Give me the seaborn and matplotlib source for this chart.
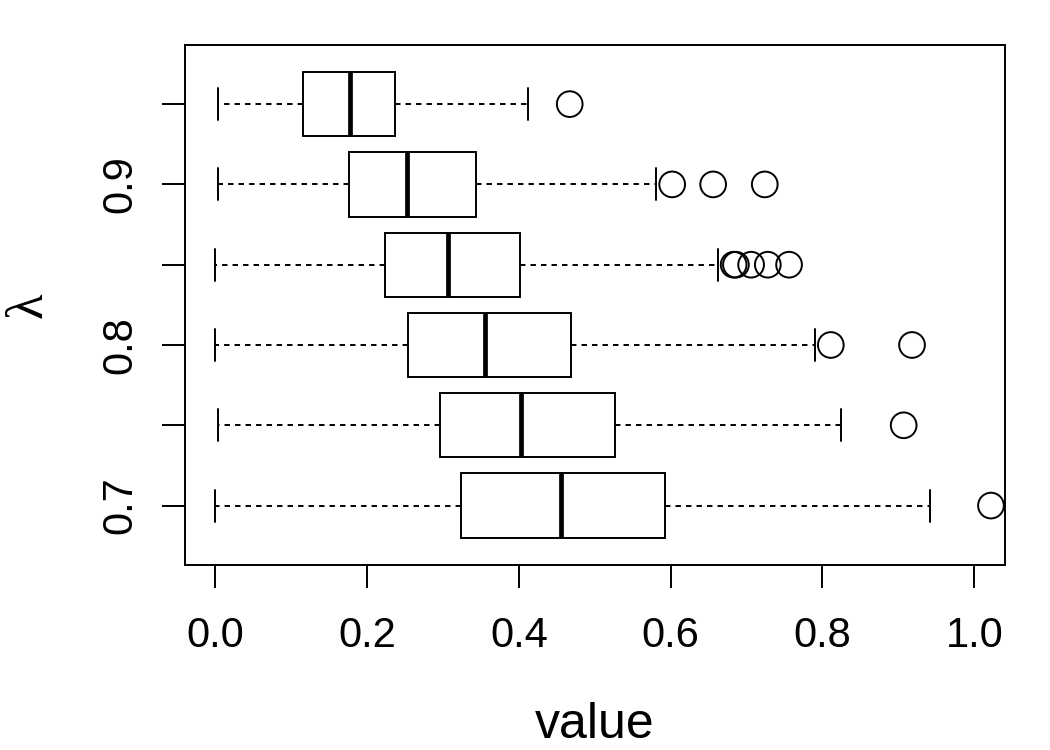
import numpy as np
import pandas as pd
import matplotlib
matplotlib.use("Agg")
import matplotlib.pyplot as plt
import seaborn as sns

# ---- data ----
categories = ["0.7", "0.75", "0.8", "0.85", "0.9", "0.95"]
whisker_lo = [0.000, 0.004, 0.000, 0.000, 0.003, 0.003]
q1         = [0.324, 0.296, 0.254, 0.223, 0.176, 0.115]
median     = [0.455, 0.403, 0.356, 0.307, 0.252, 0.177]
q3         = [0.593, 0.527, 0.469, 0.402, 0.344, 0.237]
whisker_hi = [0.942, 0.824, 0.790, 0.662, 0.581, 0.412]
outliers = [
    [1.022],
    [0.907],
    [0.811, 0.918],
    [0.683, 0.686, 0.706, 0.728, 0.756],
    [0.602, 0.656, 0.724],
    [0.467],
]
shown_labels = ["0.7", "", "0.8", "", "0.9", ""]
x_ticks = [0.0, 0.2, 0.4, 0.6, 0.8, 1.0]

# five-number summaries -> long table (quartiles of 5 points are exact)
box_df = pd.DataFrame({
    "lam": np.repeat(categories, 5),
    "value": np.column_stack([whisker_lo, q1, median, q3, whisker_hi]).ravel(),
})
out_df = pd.DataFrame({
    "lam": [c for c, o in zip(categories, outliers) for _ in o],
    "value": [v for o in outliers for v in o],
})

sns.set_style("ticks")
plt.rcParams["font.family"] = ["Liberation Sans", "DejaVu Sans"]

order = categories[::-1]  # 0.95 on top, 0.7 at the bottom

fig = plt.figure(figsize=(10.5, 7.5), dpi=100)
ax = fig.add_axes([184.5 / 1050, 1 - 565 / 750, 820.5 / 1050, 520.3 / 750])

lw = 1.4
sns.boxplot(
    data=box_df, x="value", y="lam", order=order, orient="h",
    whis=(0, 100), width=0.8, color="white", linecolor="black",
    linewidth=lw, showfliers=False, saturation=1, ax=ax,
    medianprops=dict(color="black", linewidth=3.4, solid_capstyle="butt"),
    whiskerprops=dict(color="black", linewidth=lw, linestyle=(0, (2.8, 2.6))),
    capprops=dict(color="black", linewidth=lw),
    boxprops=dict(edgecolor="black", linewidth=lw),
)
n_before = len(ax.collections)
sns.stripplot(
    data=out_df, x="value", y="lam", order=order, orient="h",
    jitter=False, size=18.5, marker="o", color="black", ax=ax,
)
for pts in ax.collections[n_before:]:
    pts.set_facecolor("none")
    pts.set_edgecolor("black")
    pts.set_linewidth(lw)

ax.set_xlim(-0.0405, 1.0405)
ax.set_ylim(len(order) - 1 + 0.74, -0.74)

ax.set_xticks(x_ticks)
ax.set_xticklabels([f"{t:.1f}" for t in x_ticks], fontsize=30)
ax.set_yticks(range(len(order)))
ax.set_yticklabels(shown_labels[::-1], fontsize=30, rotation=90, va="center")

ax.tick_params(axis="x", length=16.6, width=lw, pad=20, colors="black")
ax.tick_params(axis="y", length=16.6, width=lw, pad=15, colors="black")
for s in ax.spines.values():
    s.set_visible(True)
    s.set_linewidth(lw)
    s.set_color("black")

ax.set_xlabel("value", fontsize=36, va="baseline", color="black")
ax.xaxis.set_label_coords(0.5, -0.3325)
ax.set_ylabel("λ", fontsize=38, family=["Liberation Serif", "DejaVu Serif"],
              va="baseline", color="black")
ax.yaxis.set_label_coords(-0.1737, 0.5)

fig.savefig("out.png", dpi=100, facecolor="white")
